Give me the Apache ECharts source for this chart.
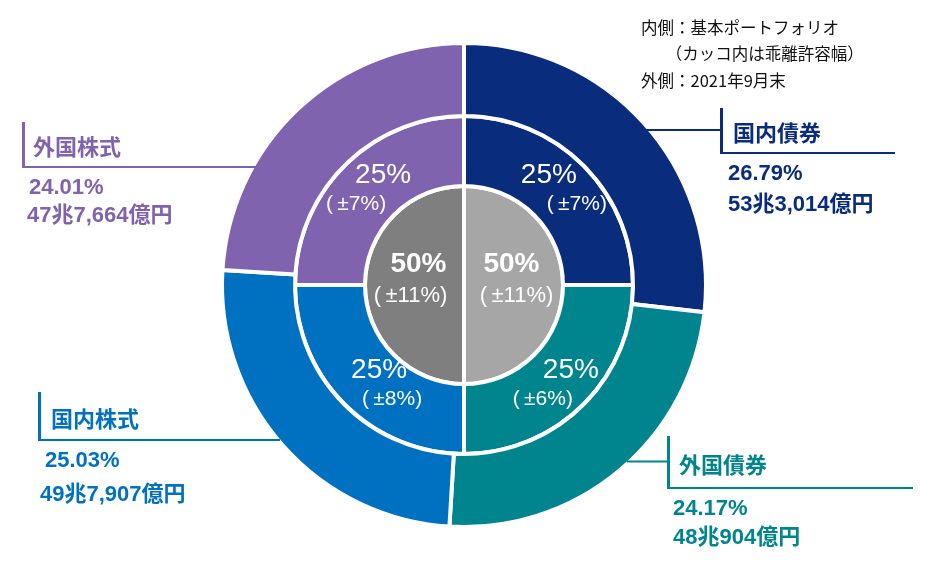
<!DOCTYPE html>
<html>
<head>
<meta charset="utf-8">
<script src="https://cdn.jsdelivr.net/npm/echarts@6/dist/echarts.min.js"></script>
<style>
html, body { margin: 0; padding: 0; background: #fff; }
#main { width: 938px; height: 575px; }
</style>
</head>
<body>
<div id="main"></div>
<script>
// 外側: 2021年9月末の資産構成
var assetNames = ['国内債券', '外国債券', '国内株式', '外国株式'];
var actualShares = [26.79, 24.17, 25.03, 24.01];
var actualAmounts = ['53兆3,014億円', '48兆904億円', '49兆7,907億円', '47兆7,664億円'];
// 中間: 基本ポートフォリオ（乖離許容幅）
var policyShares = [25, 25, 25, 25];
var policyBands = [7, 6, 8, 7];
// 内側: 債券 / 株式
var coreShares = [50, 50];
var coreBands = [11, 11];

var colors = ['#0a2c7c', '#00858e', '#0071c0', '#7f63ae'];
var grays = ['#a6a6a6', '#7f7f7f'];
var font = "'Liberation Sans', 'Noto Sans CJK JP', sans-serif";
var center = [464, 285];

// label nudges (x of line 1, x of line 2, y of block)
var policyShift = [[-12, 16, 2], [10, -18, 3], [12, 25, 3], [16, -11, 2]];
var coreShift = [[-5, 0, -5], [7, -1, -5]];
// outer label boxes
var outerBox = [
    { x: 645, y: 108, lead: 75, barH: 44, pad: 10, line: 175, vPad: 83, aPad: 83, aH: 22 },
    { x: 627, y: 436, lead: 40, barH: 51, pad: 9, line: 246, vPad: 46, aPad: 46, aH: 18 },
    { x: 38, y: 392, lead: 0, barH: 47, pad: 10, line: 242, vPad: 7, aPad: 2, aH: 28 },
    { x: 22, y: 122, lead: 0, barH: 44, pad: 8, line: 234, vPad: 7, aPad: 5, aH: 16 }
];

function padX(s) { return s >= 0 ? [0, 0, 0, 2 * s] : [0, -2 * s, 0, 0]; }

var policyRich = {};
policyShift.forEach(function (s, i) {
    policyRich['a' + i] = { fontSize: 28, lineHeight: 29, color: '#fff', fontFamily: font, padding: padX(s[0]) };
    policyRich['b' + i] = { fontSize: 21, lineHeight: 29, color: '#fff', fontFamily: font, padding: padX(s[1]) };
});
var coreRich = {};
coreShift.forEach(function (s, i) {
    coreRich['a' + i] = { fontSize: 28, fontWeight: 'bold', lineHeight: 32, color: '#fff', fontFamily: font, padding: padX(s[0]) };
    coreRich['b' + i] = { fontSize: 22, lineHeight: 32, color: '#fff', fontFamily: font, padding: padX(s[1]) };
});
var outerRich = {};
outerBox.forEach(function (b, i) {
    var c = colors[i];
    outerRich['lead' + i] = { width: b.lead, height: 2, lineHeight: b.barH, backgroundColor: c };
    outerRich['bar' + i] = { width: 3, height: b.barH, lineHeight: b.barH, backgroundColor: c };
    outerRich['t' + i] = { fontSize: 22, fontWeight: 'bold', color: c, fontFamily: font, lineHeight: b.barH, padding: [10, 0, 0, b.pad] };
    outerRich['gap' + i] = { width: b.lead, height: 2, lineHeight: 2 };
    outerRich['u' + i] = { width: b.line, height: 2, lineHeight: 2, backgroundColor: c };
    outerRich['vs' + i] = { width: b.vPad, height: 1, lineHeight: 40 };
    outerRich['v' + i] = { fontSize: 22, fontWeight: 'bold', color: c, fontFamily: font, lineHeight: 40 };
    outerRich['as' + i] = { width: b.aPad, height: 1, lineHeight: b.aH };
    outerRich['am' + i] = { fontSize: 22, fontWeight: 'bold', color: c, fontFamily: font, lineHeight: b.aH };
});

var myChart = echarts.init(document.getElementById('main'));
myChart.setOption({
    animation: false,
    title: {
        text: '内側：基本ポートフォリオ\n\u3000\u3000（カッコ内は乖離許容幅）\n外側：2021年9月末',
        left: 641,
        top: 14,
        padding: 0,
        textStyle: { fontSize: 16.5, fontWeight: 'normal', color: '#111', lineHeight: 26.5, fontFamily: "'Noto Sans CJK JP', sans-serif" }
    },
    series: [
        {
            type: 'pie',
            silent: true,
            center: center,
            radius: [0, 99],
            startAngle: 90,
            avoidLabelOverlap: false,
            itemStyle: { borderColor: '#fff', borderWidth: 4 },
            label: {
                position: 'inside',
                formatter: function (p) {
                    var i = p.dataIndex;
                    return '{a' + i + '|' + coreShares[i] + '%}\n{b' + i + '|(\u2009±' + coreBands[i] + '%)}';
                },
                rich: coreRich
            },
            labelLine: { show: false },
            data: coreShares.map(function (v, i) {
                return { value: v, itemStyle: { color: grays[i] }, label: { offset: [0, coreShift[i][2]] } };
            })
        },
        {
            type: 'pie',
            silent: true,
            center: center,
            radius: [99, 169],
            startAngle: 90,
            avoidLabelOverlap: false,
            itemStyle: { borderColor: '#fff', borderWidth: 4 },
            label: {
                position: 'inside',
                formatter: function (p) {
                    var i = p.dataIndex;
                    return '{a' + i + '|' + policyShares[i] + '%}\n{b' + i + '|(\u2009±' + policyBands[i] + '%)}';
                },
                rich: policyRich
            },
            labelLine: { show: false },
            data: policyShares.map(function (v, i) {
                return { value: v, itemStyle: { color: colors[i] }, label: { offset: [0, policyShift[i][2]] } };
            })
        },
        {
            type: 'pie',
            silent: true,
            center: center,
            radius: [169, 242],
            startAngle: 90,
            avoidLabelOverlap: false,
            itemStyle: { borderColor: '#fff', borderWidth: 4 },
            label: {
                position: 'outside',
                formatter: function (p) {
                    var i = p.dataIndex, b = outerBox[i];
                    var row1 = (b.lead ? '{lead' + i + '|}' : '') + '{bar' + i + '|}{t' + i + '|' + assetNames[i] + '}';
                    var row2 = (b.lead ? '{gap' + i + '|}' : '') + '{u' + i + '|}';
                    var row3 = '{vs' + i + '|}{v' + i + '|' + actualShares[i].toFixed(2) + '%}';
                    var row4 = (b.aPad ? '{as' + i + '|}' : '') + '{am' + i + '|' + actualAmounts[i] + '}';
                    return [row1, row2, row3, row4].join('\n');
                },
                rich: outerRich
            },
            labelLine: { show: false },
            labelLayout: function (p) {
                var b = outerBox[p.dataIndex];
                return { x: b.x, y: b.y, align: 'left', verticalAlign: 'top' };
            },
            data: actualShares.map(function (v, i) {
                return { value: v, name: assetNames[i], itemStyle: { color: colors[i] } };
            })
        }
    ]
});
window.onresize = function () {
    myChart.resize();
};
</script>
</body>
</html>
